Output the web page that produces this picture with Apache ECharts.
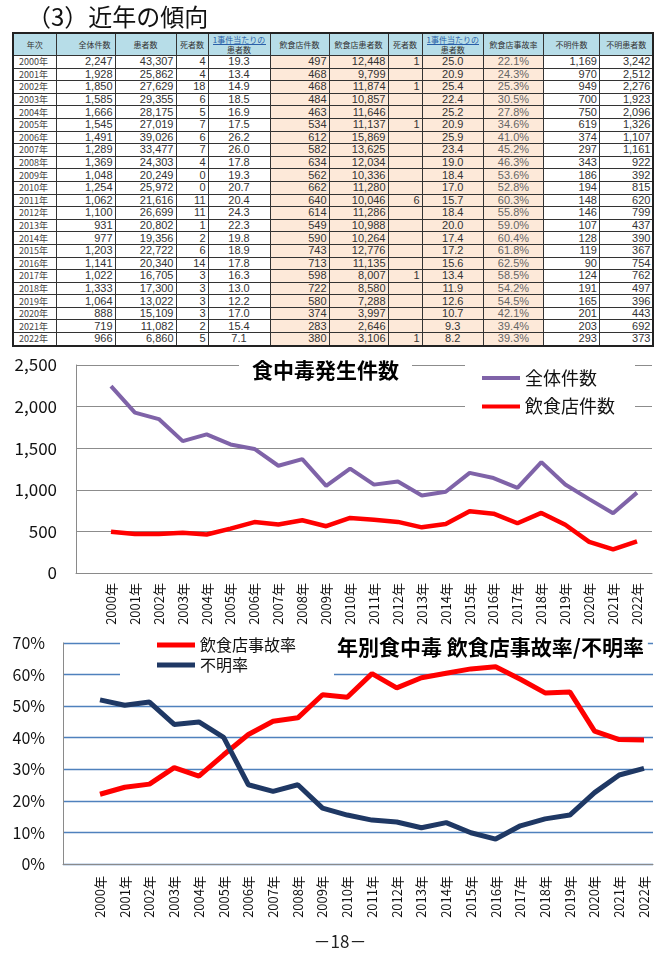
<!DOCTYPE html>
<html>
<head>
<meta charset="utf-8">
<script src="https://cdn.jsdelivr.net/npm/echarts@6/dist/echarts.min.js"></script>
<style>
html,body{margin:0;padding:0;background:#fff;}
#wrap{position:relative;width:666px;height:962px;overflow:hidden;background:#fff;font-family:"Noto Sans CJK JP","Noto Sans",sans-serif;}
#chart{position:absolute;left:0;top:0;width:666px;height:962px;}
#title{position:absolute;left:27px;top:2px;font-size:24px;line-height:28px;color:#111;white-space:nowrap;}
#tbl{position:absolute;left:12px;top:32px;border-collapse:collapse;table-layout:fixed;border:2px solid #222;color:#333;background:#fff;}
#tbl td,#tbl th{border:1px solid #333;padding:0 2px;overflow:hidden;white-space:nowrap;}
#tbl th{background:#b7dde8;font-weight:normal;font-size:8px;line-height:9px;height:21px;color:#333;text-align:center;}
#tbl th.r{text-align:right;padding-right:4px;}
#tbl th .u{border-bottom:1px solid #2a5fa8;color:#2a5fa8;margin:0 2px;}
#tbl td{font-family:"Liberation Sans",Arial,sans-serif;font-size:11px;line-height:11px;height:11.6px;text-align:right;}
#tbl td.y{font-family:"Noto Sans CJK JP",sans-serif;font-size:9px;text-align:left;padding-left:5px;color:#444;}
#tbl td.c{text-align:center;}
#tbl td.p{background:#fde9d9;}
#tbl td.g{color:#666;}
</style>
</head>
<body>
<div id="wrap">
  <div id="chart"></div>
  <div id="title">（3）近年の傾向</div>
  <table id="tbl">
    <colgroup>
      <col style="width:43px"><col style="width:59px"><col style="width:61px"><col style="width:32px"><col style="width:62px"><col style="width:59px"><col style="width:59px"><col style="width:34px"><col style="width:61px"><col style="width:60px"><col style="width:56px"><col style="width:54px">
    </colgroup>
    <thead id="thead"></thead>
    <tbody id="tbody"></tbody>
  </table>
</div>
<script>
// ---------------- data ----------------
const years = ['2000年','2001年','2002年','2003年','2004年','2005年','2006年','2007年','2008年','2009年','2010年','2011年','2012年','2013年','2014年','2015年','2016年','2017年','2018年','2019年','2020年','2021年','2022年'];
const totalCases = [2247,1928,1850,1585,1666,1545,1491,1289,1369,1048,1254,1062,1100,931,977,1203,1141,1022,1333,1064,888,719,966];
const totalPatients = [43307,25862,27629,29355,28175,27019,39026,33477,24303,20249,25972,21616,26699,20802,19356,22722,20340,16705,17300,13022,15109,11082,6860];
const totalDeaths = [4,4,18,6,5,7,6,7,4,0,0,11,11,1,2,6,14,3,3,3,3,2,5];
const totalPerCase = [19.3,13.4,14.9,18.5,16.9,17.5,26.2,26.0,17.8,19.3,20.7,20.4,24.3,22.3,19.8,18.9,17.8,16.3,13.0,12.2,17.0,15.4,7.1];
const restCases = [497,468,468,484,463,534,612,582,634,562,662,640,614,549,590,743,713,598,722,580,374,283,380];
const restPatients = [12448,9799,11874,10857,11646,11137,15869,13625,12034,10336,11280,10046,11286,10988,10264,12776,11135,8007,8580,7288,3997,2646,3106];
const restDeaths = [1,null,1,null,null,1,null,null,null,null,null,6,null,null,null,null,null,1,null,null,null,null,1];
const restPerCase = [25.0,20.9,25.4,22.4,25.2,20.9,25.9,23.4,19.0,18.4,17.0,15.7,18.4,20.0,17.4,17.2,15.6,13.4,11.9,12.6,10.7,9.3,8.2];
const restRate = [22.1,24.3,25.3,30.5,27.8,34.6,41.0,45.2,46.3,53.6,52.8,60.3,55.8,59.0,60.4,61.8,62.5,58.5,54.2,54.5,42.1,39.4,39.3];
const unknownCases = [1169,970,949,700,750,619,374,297,343,186,194,148,146,107,128,119,90,124,191,165,201,203,293];
const unknownPatients = [3242,2512,2276,1923,2096,1326,1107,1161,922,392,815,620,799,437,390,367,754,762,497,396,443,692,373];
const unknownRate = [52.0,50.3,51.3,44.2,45.0,40.1,25.1,23.0,25.1,17.7,15.5,13.9,13.3,11.5,13.1,9.9,7.9,12.1,14.3,15.5,22.6,28.2,30.3];
const headers = ['年次','全体件数','患者数','死者数','1事件当たりの|患者数','飲食店件数','飲食店患者数','死者数','1事件当たりの|患者数','飲食店事故率','不明件数','不明患者数'];

// ---------------- table ----------------
const fmt = v => (v === null || v === undefined) ? '' : v.toLocaleString('en-US');
const head = document.getElementById('thead');
let hr = '<tr>';
headers.forEach((h, i) => {
  if (h.indexOf('|') >= 0) {
    const p = h.split('|');
    hr += '<th><div class="u">' + p[0] + '</div><div>' + p[1] + '</div></th>';
  } else {
    hr += '<th' + (i === 1 ? ' class="r"' : '') + '>' + h + '</th>';
  }
});
hr += '</tr>';
head.innerHTML = hr;
const body = document.getElementById('tbody');
let rows = '';
years.forEach((y, i) => {
  rows += '<tr>' +
    '<td class="y">' + y + '</td>' +
    '<td>' + fmt(totalCases[i]) + '</td>' +
    '<td>' + fmt(totalPatients[i]) + '</td>' +
    '<td>' + fmt(totalDeaths[i]) + '</td>' +
    '<td class="c">' + totalPerCase[i].toFixed(1) + '</td>' +
    '<td class="p">' + fmt(restCases[i]) + '</td>' +
    '<td class="p">' + fmt(restPatients[i]) + '</td>' +
    '<td class="p">' + fmt(restDeaths[i]) + '</td>' +
    '<td class="p c">' + restPerCase[i].toFixed(1) + '</td>' +
    '<td class="p c g">' + restRate[i].toFixed(1) + '%</td>' +
    '<td>' + fmt(unknownCases[i]) + '</td>' +
    '<td>' + fmt(unknownPatients[i]) + '</td>' +
    '</tr>';
});
body.innerHTML = rows;

// ---------------- charts ----------------
const chart = echarts.init(document.getElementById('chart'), null, {renderer: 'canvas'});
const FONT = '"Noto Sans CJK JP","Noto Sans",sans-serif';
const frameX = (gi) => ({gridIndex: gi, type: 'value', min: 0, max: 1,
  axisLine: {show: true, lineStyle: {color: '#8a8a8a', width: 1}}, axisTick: {show: false},
  axisLabel: {show: false}, splitLine: {show: false}});
const catX = (gi, margin) => ({gridIndex: gi, type: 'category', data: years, boundaryGap: false,
  axisLine: {show: false}, axisTick: {show: false}, splitLine: {show: false},
  axisLabel: {rotate: 90, interval: 0, fontSize: 13, color: '#111', margin: margin, fontFamily: FONT}});

const option = {
  animation: false,
  backgroundColor: 'transparent',
  textStyle: {fontFamily: FONT},
  title: [
    {text: '食中毒発生件数', left: 239, top: 359, backgroundColor: '#fff', padding: [1, 13, 1, 13],
     textStyle: {fontSize: 21, fontWeight: 'bold', color: '#000', fontFamily: FONT}, z: 10},
    {text: '年別食中毒 飲食店事故率/不明率', left: 333, top: 636, backgroundColor: '#fff', padding: [1, 4, 2, 4],
     textStyle: {fontSize: 21, fontWeight: 'bold', color: '#000', fontFamily: FONT}, z: 10}
  ],
  legend: [
    {data: ['全体件数', '飲食店件数'], orient: 'vertical', left: 465, top: 360,
     backgroundColor: '#fff', padding: [9, 20, 9, 17], itemGap: 10.5, itemWidth: 38, itemHeight: 4,
     icon: 'rect', textStyle: {fontSize: 18, color: '#111', fontFamily: FONT}, z: 10},
    {data: ['飲食店事故率', '不明率'], orient: 'vertical', left: 120, top: 631,
     backgroundColor: '#fff', padding: [6, 38, 8, 37], itemGap: 4, itemWidth: 38, itemHeight: 5,
     icon: 'rect', textStyle: {fontSize: 16, color: '#111', fontFamily: FONT}, z: 10}
  ],
  grid: [
    {left: 76, top: 365, width: 576, height: 208},
    {left: 111, top: 365, width: 526, height: 208},
    {left: 63, top: 643, width: 590, height: 221},
    {left: 100, top: 643, width: 544, height: 221}
  ],
  xAxis: [frameX(0), catX(1, 10), frameX(2), catX(3, 12)],
  yAxis: [
    {gridIndex: 0, type: 'value', min: 0, max: 2500, interval: 500,
     axisLine: {show: true, lineStyle: {color: '#8a8a8a', width: 1}}, axisTick: {show: false},
     axisLabel: {fontSize: 17, color: '#111', margin: 19, formatter: v => v.toLocaleString('en-US')},
     splitLine: {show: true, lineStyle: {color: '#8c8c8c', width: 1.2}}},
    {gridIndex: 1, type: 'value', min: 0, max: 2500, show: false, splitLine: {show: false}},
    {gridIndex: 2, type: 'value', min: 0, max: 70, interval: 10,
     axisLine: {show: true, lineStyle: {color: '#8a8a8a', width: 1}}, axisTick: {show: false},
     axisLabel: {fontSize: 16, color: '#111', margin: 18, formatter: '{value}%'},
     splitLine: {show: true, lineStyle: {color: '#4f81bd', width: 1.4}}},
    {gridIndex: 3, type: 'value', min: 0, max: 70, show: false, splitLine: {show: false}}
  ],
  series: [
    {name: '全体件数', type: 'line', xAxisIndex: 1, yAxisIndex: 1, data: totalCases,
     symbol: 'none', lineStyle: {color: '#7f63a8', width: 4}, itemStyle: {color: '#7f63a8'}},
    {name: '飲食店件数', type: 'line', xAxisIndex: 1, yAxisIndex: 1, data: restCases,
     symbol: 'none', lineStyle: {color: '#ff0000', width: 4.5}, itemStyle: {color: '#ff0000'}},
    {name: '飲食店事故率', type: 'line', xAxisIndex: 3, yAxisIndex: 3, data: restRate,
     symbol: 'none', lineStyle: {color: '#ff0000', width: 5}, itemStyle: {color: '#ff0000'}},
    {name: '不明率', type: 'line', xAxisIndex: 3, yAxisIndex: 3, data: unknownRate,
     symbol: 'none', lineStyle: {color: '#1f3864', width: 5}, itemStyle: {color: '#1f3864'}}
  ],
  graphic: [
    {type: 'text', x: 340, y: 942, z: 10,
     style: {text: '－18－', fontSize: 17, fill: '#222', align: 'center', verticalAlign: 'middle', fontFamily: FONT}}
  ]
};
chart.setOption(option);
</script>
</body>
</html>
